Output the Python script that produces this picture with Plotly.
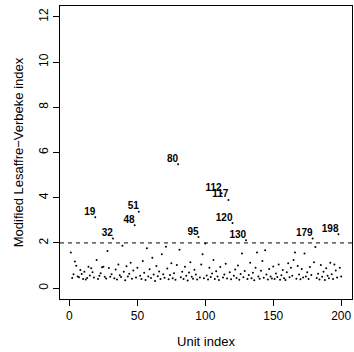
import plotly.graph_objects as go

unit_index = list(range(1, 201))
lv_index = [
    1.58, 0.45, 0.62, 1.18, 0.99, 0.52, 0.48, 0.80, 0.63, 0.41,
    0.72, 0.38, 0.45, 0.95, 0.56, 0.88, 0.70, 0.47, 3.14, 1.24,
    0.40, 0.55, 0.66, 0.92, 0.95, 0.50, 0.43, 1.64, 0.89, 0.50,
    0.61, 2.20, 0.44, 0.83, 0.38, 1.05, 0.57, 0.49, 1.87, 0.72,
    0.35, 0.97, 0.52, 0.64, 1.12, 0.42, 0.78, 2.78, 0.47, 0.90,
    3.38, 0.55, 0.40, 1.20, 0.68, 0.36, 1.77, 0.51, 0.84, 0.45,
    1.35, 0.60, 0.32, 0.98, 0.53, 0.74, 0.41, 1.50, 0.62, 0.46,
    1.83, 0.87, 0.39, 0.58, 1.10, 0.44, 0.66, 0.37, 1.02, 5.48,
    1.70, 0.48, 0.73, 0.40, 0.95, 0.55, 0.34, 0.69, 1.15, 0.50,
    0.42, 0.81, 0.60, 0.38, 2.26, 0.47, 1.05, 1.50, 0.44, 1.97,
    0.56, 0.38, 0.90, 0.49, 0.65, 1.25, 0.41, 0.75, 0.52, 0.36,
    0.93, 4.20, 0.47, 0.60, 1.08, 0.43, 3.90, 0.70, 0.39, 2.88,
    0.55, 0.82, 0.45, 1.00, 0.37, 0.63, 1.53, 0.48, 0.76, 2.12,
    0.40, 0.58, 1.12, 0.44, 0.68, 0.35, 0.90, 1.58, 0.51, 0.42,
    0.77, 1.20, 0.46, 1.68, 0.60, 0.38, 0.85, 0.52, 0.43, 0.96,
    0.40, 0.65, 0.49, 1.05, 0.37, 0.57, 0.80, 0.44, 0.36, 0.70,
    1.10, 0.48, 0.90, 0.55, 1.25, 1.58, 0.42, 0.98, 0.60, 0.39,
    0.85, 0.47, 1.53, 0.52, 0.70, 0.41, 0.93, 0.58, 2.20, 1.15,
    1.82, 0.45, 0.64, 0.38, 1.02, 0.50, 0.73, 0.36, 0.88, 0.55,
    0.44, 1.12, 0.62, 0.40, 1.05, 0.78, 0.47, 2.38, 0.90, 0.52,
]
threshold = 2
x_ticks = [0, 50, 100, 150, 200]
y_ticks = [0, 2, 4, 6, 8, 10, 12]

lab_x = [u for u, v in zip(unit_index, lv_index) if v > threshold]
lab_y = [v for v in lv_index if v > threshold]
lab_t = [str(u) for u in lab_x]

font = "Liberation Sans, Arial, sans-serif"

fig = go.Figure()
fig.add_trace(go.Scatter(
    x=unit_index, y=lv_index, mode="markers",
    marker=dict(size=2, color="black"), hoverinfo="skip", showlegend=False))
fig.add_trace(go.Scatter(
    x=lab_x, y=lab_y, mode="text", text=lab_t, textposition="top left",
    textfont=dict(family=font, size=10, color="black", weight="bold"),
    showlegend=False, hoverinfo="skip"))
fig.add_hline(y=threshold, line=dict(color="black", width=1, dash="4px,4px"))

axis_common = dict(
    showgrid=False, zeroline=False, showline=True, linecolor="black",
    linewidth=1, mirror=True, ticks="outside", ticklen=6, tickcolor="black",
    tickfont=dict(family=font, size=12, color="black"),
    automargin=False, ticklabeloverflow="allow",
)
fig.update_xaxes(range=[-6.96, 207.96], tickvals=x_ticks,
                 title=dict(text="Unit index", font=dict(family=font, size=13, color="black"), standoff=14),
                 **axis_common)
fig.update_yaxes(range=[-0.48, 12.48], tickvals=y_ticks, tickangle=-90,
                 title=dict(text="Modified Lesaffre\u2212Verbeke index", font=dict(family=font, size=13, color="black"), standoff=10),
                 **axis_common)
fig.update_layout(
    width=354, height=352, margin=dict(l=60, r=2, t=6, b=53),
    plot_bgcolor="white", paper_bgcolor="white",
)
fig.write_html(
    "out.html",
    config={"displayModeBar": False},
    post_script="document.body.style.margin='0';document.body.style.overflow='hidden';",
)
